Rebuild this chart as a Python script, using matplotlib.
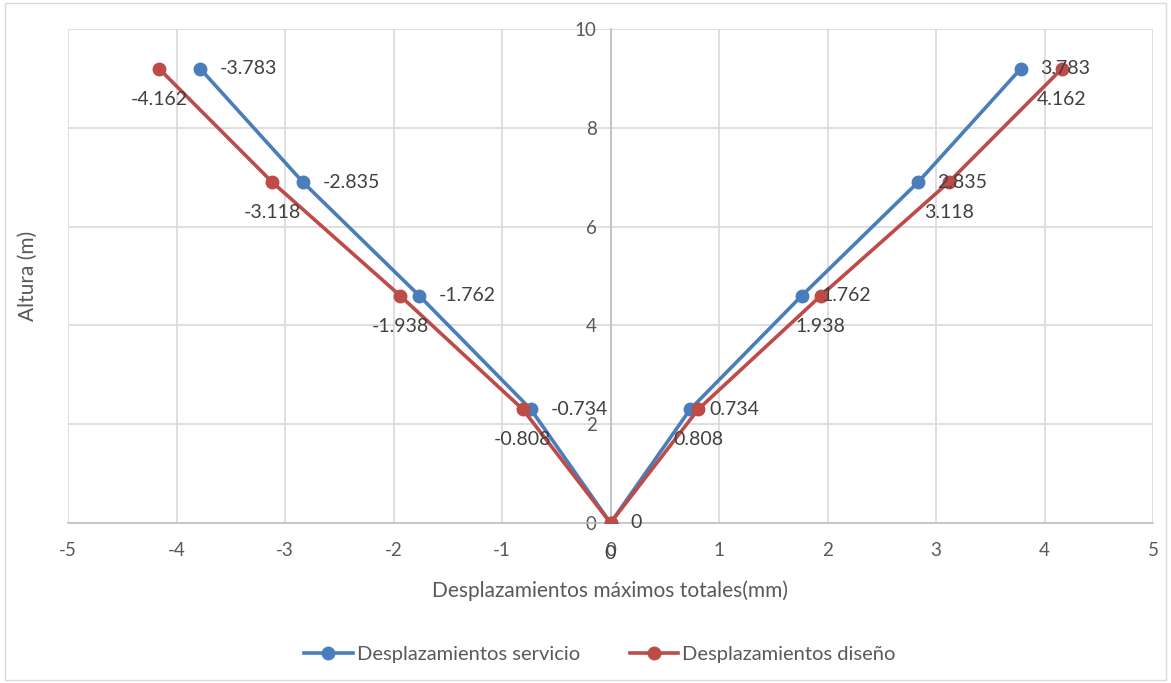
import matplotlib.pyplot as plt
from matplotlib.patches import Rectangle

plt.rcParams['font.family'] = ['Lato', 'DejaVu Sans']
plt.rcParams['axes.unicode_minus'] = False

# datos
alturas = [9.2, 6.9, 4.6, 2.3, 0, 2.3, 4.6, 6.9, 9.2]
servicio = [-3.783, -2.835, -1.762, -0.734, 0, 0.734, 1.762, 2.835, 3.783]
diseno = [-4.162, -3.118, -1.938, -0.808, 0, 0.808, 1.938, 3.118, 4.162]

azul = '#4A7EBB'
rojo = '#BE4B48'
gris_txt = '#404040'

fig = plt.figure(figsize=(11.71, 6.83), dpi=100)
ax = fig.add_axes([68/1171, 1-523/683, (1153-68)/1171, (523-29)/683])

ax.plot(servicio, alturas, '-o', color=azul, lw=2.6, ms=9, label='Desplazamientos servicio', zorder=3)
ax.plot(diseno, alturas, '-o', color=rojo, lw=2.6, ms=9, label='Desplazamientos diseño', zorder=3)

for x, y in zip(servicio, alturas):
    ax.annotate(f'{x:g}', (x, y), xytext=(14, 0), textcoords='offset points',
                ha='left', va='center', fontsize=14, color=gris_txt, zorder=4)
for x, y in zip(diseno, alturas):
    ax.annotate(f'{x:g}', (x, y), xytext=(0, -22), textcoords='offset points',
                ha='center', va='center', fontsize=14, color=gris_txt, zorder=4)

ax.set_xlim(-5, 5)
ax.set_ylim(0, 10)
ax.set_xticks(range(-5, 6))
ax.set_yticks(range(0, 11, 2))
ax.grid(True, color='#d9d9d9', lw=1.2)
ax.set_axisbelow(True)

for s in ['top', 'right']:
    ax.spines[s].set_visible(False)
ax.spines['left'].set_position(('data', 0))
ax.spines['left'].set_color('#bfbfbf')
ax.spines['bottom'].set_color('#bfbfbf')
ax.spines['left'].set_linewidth(1.2)
ax.spines['bottom'].set_linewidth(1.2)
ax.tick_params(axis='both', length=0, labelsize=13.5, labelcolor='#595959')
ax.tick_params(axis='x', pad=14)
ax.tick_params(axis='y', pad=10)

fig.text(610/1171, 1-591/683, 'Desplazamientos máximos totales(mm)', ha='center', va='center',
         fontsize=15, color='#595959')
fig.text(28/1171, 1-276/683, 'Altura (m)', ha='center', va='center', rotation=90,
         fontsize=15, color='#595959')

fig.legend(loc='center', bbox_to_anchor=(600/1171, 1-654/683), ncol=2, frameon=False,
           fontsize=14.5, labelcolor='#595959', handlelength=2.4, columnspacing=2.5,
           handletextpad=0.2)

fig.patches.append(Rectangle((5/1171, 3/683), 1161/1171, 677/683, transform=fig.transFigure,
                             fill=False, edgecolor='#d9d9d9', lw=1))

fig.savefig('out.png', dpi=100)
